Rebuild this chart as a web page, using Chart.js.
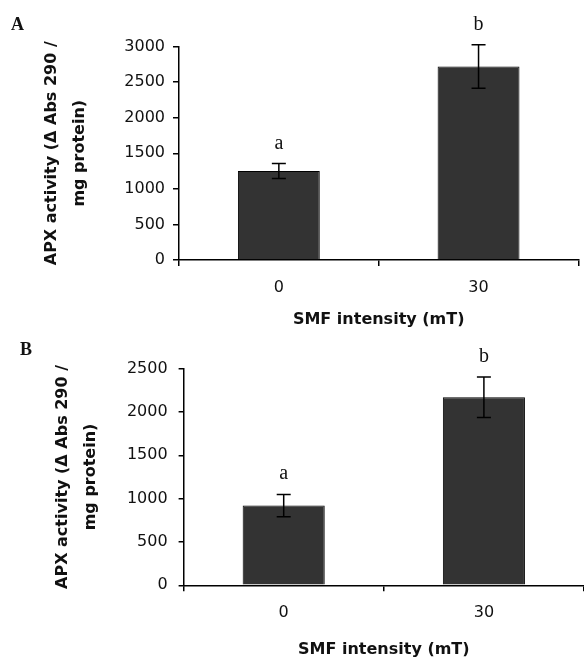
<!DOCTYPE html>
<html>
<head>
<meta charset="utf-8">
<script src="https://cdn.jsdelivr.net/npm/chart.js@4.4.1/dist/chart.umd.min.js"></script>
<style>
  html, body { margin: 0; padding: 0; background: #fff; overflow: hidden; }
  .painel { position: absolute; left: 0; width: 584px; height: 330px; }
  #painelA { top: 0; }
  #painelB { top: 330px; }
</style>
</head>
<body>
<div class="painel" id="painelA"><canvas id="chartA" width="584" height="330"></canvas></div>
<div class="painel" id="painelB"><canvas id="chartB" width="584" height="330"></canvas></div>
<script>
// dados
const categorias = ['0', '30'];

const mediasA = [1250, 2720];
const errosA = [105, 305];
const letrasA = ['a', 'b'];
const ticksA = [0, 500, 1000, 1500, 2000, 2500, 3000];

const mediasB = [920, 2170];
const errosB = [128, 233];
const letrasB = ['a', 'b'];
const ticksB = [0, 500, 1000, 1500, 2000, 2500];

const tituloY = ['APX activity (\u0394 Abs 290 /', 'mg protein)'];
const tituloX = 'SMF intensity (mT)';

// barras de erro + letras de significancia + letra do painel
const barrasErro = {
  id: 'barrasErro',
  afterDatasetsDraw(chart) {
    const { ctx } = chart;
    const ds = chart.data.datasets[0];
    const y = chart.scales.y;
    const meta = chart.getDatasetMeta(0);
    ctx.save();
    ctx.strokeStyle = '#000';
    ctx.lineWidth = 1.5;
    meta.data.forEach((barra, i) => {
      const x = barra.x;
      const topo = y.getPixelForValue(ds.data[i] + ds.erros[i]);
      const base = y.getPixelForValue(ds.data[i] - ds.erros[i]);
      ctx.beginPath();
      ctx.moveTo(x, topo); ctx.lineTo(x, base);
      ctx.moveTo(x - 7, topo); ctx.lineTo(x + 7, topo);
      ctx.moveTo(x - 7, base); ctx.lineTo(x + 7, base);
      ctx.stroke();

      ctx.fillStyle = '#111';
      ctx.font = '20px "Liberation Serif"';
      ctx.textAlign = 'center';
      ctx.textBaseline = 'alphabetic';
      ctx.fillText(ds.letras[i], x, topo - 15);
    });
    ctx.font = 'bold 18px "Liberation Serif"';
    ctx.textAlign = 'left';
    ctx.fillText(ds.painel, ds.painelX, ds.painelY);
    ctx.restore();
  }
};

function criarGrafico(id, medias, erros, letras, ticks, cfg) {
  const ctx = document.getElementById(id).getContext('2d');
  return new Chart(ctx, {
    type: 'bar',
    data: {
      labels: categorias,
      datasets: [{
        data: medias,
        erros: erros,
        letras: letras,
        painel: cfg.painel,
        painelX: cfg.painelX,
        painelY: cfg.painelY,
        backgroundColor: '#333333',
        borderColor: '#000',
        borderWidth: 1,
        categoryPercentage: 1,
        barPercentage: 0.41
      }]
    },
    options: {
      responsive: false,
      animation: false,
      layout: {
        padding: { top: cfg.topo, right: 584 - cfg.dir, left: 0, bottom: 0 }
      },
      plugins: {
        legend: { display: false },
        tooltip: { enabled: false }
      },
      scales: {
        x: {
          afterFit: s => { s.height = 330 - cfg.base; },
          grid: { drawOnChartArea: false, drawTicks: true, tickLength: 6, color: '#000', lineWidth: 1.5 },
          border: { display: true, color: '#000', width: 1.5 },
          ticks: { color: '#111', padding: 12, font: { family: '"DejaVu Sans"', size: 16 } },
          title: {
            display: true,
            text: tituloX,
            color: '#111',
            padding: { top: 0, bottom: 1 },
            font: { family: '"DejaVu Sans"', size: 16, weight: 'bold' }
          }
        },
        y: {
          min: 0,
          max: ticks[ticks.length - 1],
          afterFit: s => { s.width = cfg.esq; },
          afterBuildTicks: s => { s.ticks = ticks.map(v => ({ value: v })); },
          grid: { drawOnChartArea: false, drawTicks: true, tickLength: cfg.tick, color: '#000', lineWidth: 1.5 },
          border: { display: true, color: '#000', width: 1.5 },
          ticks: {
            color: '#111',
            padding: cfg.pad,
            font: { family: '"DejaVu Sans"', size: 16 },
            callback: v => String(v) // sem separador de milhar
          },
          title: {
            display: true,
            text: tituloY,
            color: '#111',
            padding: { top: cfg.tituloPad, bottom: 0 },
            font: { family: '"DejaVu Sans"', size: 16, weight: 'bold', lineHeight: '28px' }
          }
        }
      }
    },
    plugins: [barrasErro]
  });
}

criarGrafico('chartA', mediasA, errosA, letrasA, ticksA, {
  topo: 46.5, base: 260, esq: 179, dir: 578.4, tick: 6, pad: 8, tituloPad: 37.5,
  painel: 'A', painelX: 11, painelY: 30
});

criarGrafico('chartB', mediasB, errosB, letrasB, ticksB, {
  topo: 38.6, base: 255.3, esq: 183.6, dir: 584, tick: 5, pad: 11, tituloPad: 49.3,
  painel: 'B', painelX: 20, painelY: 25
});
</script>
</body>
</html>
